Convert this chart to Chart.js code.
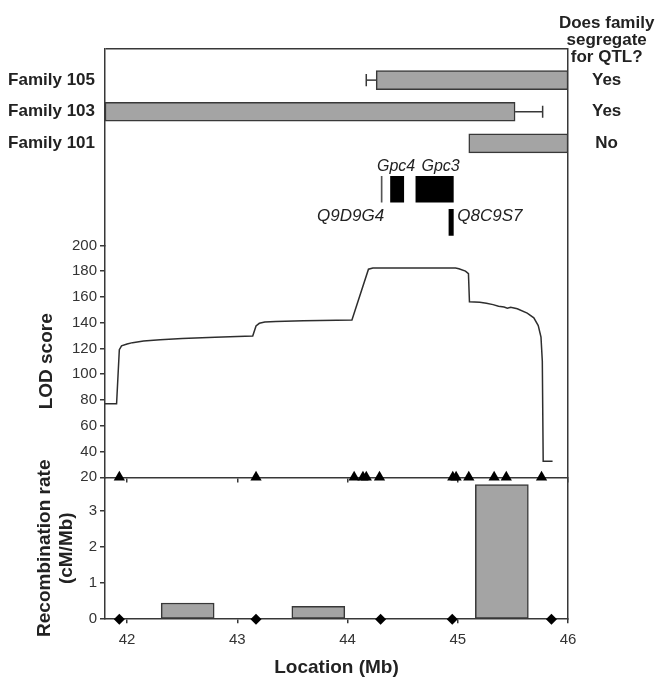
<!DOCTYPE html>
<html><head><meta charset="utf-8">
<script src="https://cdn.jsdelivr.net/npm/chart.js@4.4.1/dist/chart.umd.min.js"></script>
<style>html,body{margin:0;padding:0;background:#fff;}canvas{display:block;}</style>
</head><body>
<canvas id="c" width="659" height="679"></canvas>
<script>
// ---------------- data ----------------
const families = ['Family 105', 'Family 103', 'Family 101'];
const familyStart = [44.26, 41.80, 45.10];
const familyEnd = [46.00, 45.52, 46.00];
const familyErrLow = [44.17, null, null];
const familyErrHigh = [null, 45.77, null];
const segregates = ['Yes', 'Yes', 'No'];
const headerLines = ['Does family', 'segregate', 'for QTL?'];

const genes = ['Q9D9G4', 'Gpc4', 'Gpc3', 'Q8C9S7'];
const geneStart = [44.305, 44.39, 44.62, 44.92];
const geneEnd = [44.314, 44.51, 44.96, 44.96];
const geneTrack = [0, 0, 0, 1];

const lodLocation = [41.80, 41.905, 41.93, 41.95, 42.00, 42.05, 42.15, 42.30, 42.50, 42.80, 43.00, 43.14, 43.17, 43.20, 43.25, 43.35, 43.60, 43.90, 44.04, 44.19, 44.23, 44.60, 44.98, 45.01, 45.07, 45.097, 45.106, 45.20, 45.26, 45.32, 45.37, 45.42, 45.45, 45.48, 45.54, 45.63, 45.69, 45.73, 45.755, 45.767, 45.775, 45.86];
const lodScore = [77, 77, 119, 122, 123.5, 124.5, 125.7, 126.8, 127.7, 128.7, 129.2, 129.6, 137.5, 139.5, 140.5, 141, 141.5, 141.8, 142, 181.5, 182.5, 182.5, 182.5, 181.9, 180, 178, 156.2, 155.8, 155, 154, 152.7, 152.1, 151.3, 152, 150.8, 147.4, 143.8, 137.8, 128.8, 110, 32.5, 32.5];

const markerLocation = [41.93, 43.17, 44.06, 44.14, 44.17, 44.29, 44.955, 44.985, 45.10, 45.33, 45.44, 45.76];

const intervalBounds = [41.93, 43.17, 44.30, 44.95, 45.85];
const recombRate = [0.45, 0.36, 0, 3.74];

const xTicks = [42, 43, 44, 45, 46];
const lodTicks = [20, 40, 60, 80, 100, 120, 140, 160, 180, 200];
const recTicks = [0, 1, 2, 3];

// ---------------- layout / style constants ----------------
const FONT = "'Liberation Sans', Arial, Helvetica, sans-serif";
const DARK = '#383838';
const GRAY = '#a4a4a4';
const X_MIN = 41.8, X_MAX = 46;
const LOD_MIN = 20, LOD_MAX = 200, REC_MAX = 3.94;
const W_TOP = 196.7, W_LOD = 231.7, W_REC = 141.8;
const TOP_MAX = 6.225;
const GENE_ROWS = [4.45, 5.5];
const SIDE_LABEL_ROW = 5.29;
const GENE_LABEL_DX = [7, -1, 6, 0];
const CAP = 0.19;
const LEFT_W = 97, RIGHT_W = 54;

Chart.defaults.font.family = FONT;
Chart.defaults.color = '#333';

const rowOf = i => i + 1;

const datasets = [];
// family bars
datasets.push({
  type: 'bar', indexAxis: 'y', xAxisID: 'x', yAxisID: 'yTop', grouped: false,
  data: families.map((f, i) => ({x: [familyStart[i], familyEnd[i]], y: rowOf(i)})),
  backgroundColor: GRAY, borderColor: DARK, borderWidth: 1.5, borderSkipped: false, barThickness: 19
});
// error whiskers
families.forEach((f, i) => {
  [[familyErrLow[i], familyStart[i]], [familyErrHigh[i], familyEnd[i]]].forEach(([err, base]) => {
    if (err === null) return;
    const line = {type: 'line', xAxisID: 'x', yAxisID: 'yTop', borderColor: DARK, borderWidth: 1.5, pointRadius: 0, clip: false};
    datasets.push(Object.assign({}, line, {data: [{x: base, y: rowOf(i)}, {x: err, y: rowOf(i)}]}));
    datasets.push(Object.assign({}, line, {data: [{x: err, y: rowOf(i) - CAP}, {x: err, y: rowOf(i) + CAP}]}));
  });
});
// genes
datasets.push({
  type: 'bar', indexAxis: 'y', xAxisID: 'x', yAxisID: 'yTop', grouped: false,
  data: genes.map((g, i) => ({x: [geneStart[i], geneEnd[i]], y: GENE_ROWS[geneTrack[i]]})),
  backgroundColor: genes.map((g, i) => geneEnd[i] - geneStart[i] < 0.02 ? '#555' : '#000'),
  borderWidth: 0, barThickness: 26
});
// LOD curve
datasets.push({
  type: 'line', xAxisID: 'x', yAxisID: 'yLod',
  data: lodLocation.map((x, i) => ({x, y: lodScore[i]})),
  borderColor: '#2e2e2e', borderWidth: 1.5, pointRadius: 0, tension: 0, fill: false
});
// markers
datasets.push({
  type: 'scatter', xAxisID: 'x', yAxisID: 'yLod', clip: false,
  data: markerLocation.map(x => ({x, y: LOD_MIN})),
  pointStyle: 'triangle', pointRadius: 6.5, backgroundColor: '#000', borderColor: '#000', borderWidth: 0
});
// recombination bars
datasets.push({
  type: 'bar', xAxisID: 'x', yAxisID: 'yRec', grouped: false,
  data: recombRate.map((r, i) => ({x: (intervalBounds[i] + intervalBounds[i + 1]) / 2, y: r})),
  backgroundColor: GRAY, borderColor: DARK, borderWidth: 1.5, borderSkipped: false, barThickness: 53
});
// interval bounds (diamonds)
datasets.push({
  type: 'scatter', xAxisID: 'x', yAxisID: 'yRec', clip: false,
  data: intervalBounds.map(x => ({x, y: 0})),
  pointStyle: 'rectRot', pointRadius: 5.5, backgroundColor: '#000', borderColor: '#000', borderWidth: 0
});

const setTicks = arr => axis => { axis.ticks = arr.map(v => ({value: v})); };
const fixWidth = w => axis => { axis.width = w; };
const border = {display: true, color: DARK, width: 1.5};
const tickFont = {size: 15};

const textLayer = {
  id: 'textLayer',
  afterDraw(chart) {
    const {ctx, chartArea} = chart;
    const x = chart.scales.x, yTop = chart.scales.yTop;
    ctx.save();
    ctx.fillStyle = '#222';
    ctx.textBaseline = 'middle';
    ctx.font = 'bold 17px ' + FONT;
    ctx.textAlign = 'center';
    const hx = chartArea.right + 24 + ctx.measureText('Yes').width / 2;
    const firstRow = yTop.getPixelForValue(rowOf(0));
    headerLines.forEach((line, i) => {
      ctx.fillText(line, hx, firstRow - 23 - 17 * (headerLines.length - 1 - i));
    });
    genes.forEach((g, i) => {
      const x0 = x.getPixelForValue(geneStart[i]);
      const x1 = x.getPixelForValue(geneEnd[i]);
      const rowY = yTop.getPixelForValue(GENE_ROWS[geneTrack[i]]);
      const sideY = yTop.getPixelForValue(SIDE_LABEL_ROW);
      if (geneTrack[i] === 1) {
        ctx.font = 'italic 17px ' + FONT;
        ctx.textAlign = 'left';
        ctx.fillText(g, x1 + 4 + GENE_LABEL_DX[i], sideY);
      } else if (x1 - x0 < 3) {
        ctx.font = 'italic 17px ' + FONT;
        ctx.textAlign = 'right';
        ctx.fillText(g, x0 - 4 + GENE_LABEL_DX[i], sideY);
      } else {
        ctx.font = 'italic 16px ' + FONT;
        ctx.textAlign = 'center';
        ctx.fillText(g, (x0 + x1) / 2 + GENE_LABEL_DX[i], rowY - 23);
      }
    });
    ctx.restore();
  }
};

new Chart(document.getElementById('c'), {
  type: 'line',
  data: {datasets},
  plugins: [textLayer],
  options: {
    responsive: false, animation: false,
    layout: {padding: {left: 8, top: 48.5, right: 37, bottom: 0}},
    plugins: {legend: {display: false}, tooltip: {enabled: false}, title: {display: false}},
    scales: {
      x: {
        type: 'linear', position: 'bottom', min: X_MIN, max: X_MAX, offset: false,
        afterBuildTicks: setTicks(xTicks),
        ticks: {font: tickFont, color: '#333', padding: 7.5, maxRotation: 0, autoSkip: false},
        grid: {display: true, drawOnChartArea: false, drawTicks: true, tickLength: 4, color: DARK, lineWidth: 1.5, offset: false},
        border,
        title: {display: true, text: 'Location (Mb)', font: {size: 19, weight: 'bold'}, color: '#222', padding: {top: 0, bottom: 0}}
      },
      xSep: {
        type: 'linear', position: {yLod: LOD_MIN}, min: X_MIN, max: X_MAX, offset: false,
        afterBuildTicks: setTicks(xTicks),
        ticks: {display: false},
        grid: {display: true, drawOnChartArea: false, drawTicks: true, tickLength: 4, color: DARK, lineWidth: 1.5, offset: false},
        border
      },
      yRec: {
        type: 'linear', position: 'left', stack: 'v', stackWeight: W_REC, weight: 1, offset: false,
        min: 0, max: REC_MAX, beginAtZero: false,
        afterBuildTicks: setTicks(recTicks), afterFit: fixWidth(LEFT_W),
        ticks: {font: tickFont, color: '#333', padding: 3, autoSkip: false},
        grid: {display: true, drawOnChartArea: false, drawTicks: true, tickLength: 5, color: DARK, lineWidth: 1.5, offset: false},
        border,
        title: {display: true, text: ['Recombination rate', '(cM/Mb)'], font: {size: 19, weight: 'bold'}, color: '#222', padding: {top: 25, bottom: 2}}
      },
      yLod: {
        type: 'linear', position: 'left', stack: 'v', stackWeight: W_LOD, weight: 2, offset: false,
        min: LOD_MIN, max: LOD_MAX, beginAtZero: false,
        afterBuildTicks: setTicks(lodTicks), afterFit: fixWidth(LEFT_W),
        ticks: {font: tickFont, color: '#333', padding: 3, autoSkip: false},
        grid: {display: true, drawOnChartArea: false, drawTicks: true, tickLength: 5, color: DARK, lineWidth: 1.5, offset: false},
        border,
        title: {display: true, text: 'LOD score', font: {size: 19, weight: 'bold'}, color: '#222', padding: {top: 27, bottom: 2}}
      },
      yTop: {
        type: 'linear', position: 'left', stack: 'v', stackWeight: W_TOP, weight: 3, offset: false,
        reverse: true, min: 0, max: TOP_MAX, beginAtZero: false,
        afterBuildTicks: setTicks([0, 1, 2, 3]), afterFit: fixWidth(LEFT_W),
        ticks: {callback: v => (v >= 1 ? families[v - 1] : ''), font: {size: 17, weight: 'bold'}, color: '#222', padding: 10, autoSkip: false},
        grid: {display: true, drawOnChartArea: true, drawTicks: false, lineWidth: 1.5, offset: false,
               color: c => (c.tick && c.tick.value === 0 ? DARK : 'rgba(0,0,0,0)')},
        border
      },
      yR: {
        type: 'linear', position: 'right', reverse: true, min: 0, offset: false,
        max: TOP_MAX * (W_TOP + W_LOD + W_REC) / W_TOP, beginAtZero: false,
        afterBuildTicks: setTicks([1, 2, 3]), afterFit: fixWidth(RIGHT_W),
        ticks: {callback: v => segregates[v - 1], font: {size: 17, weight: 'bold'}, color: '#222', padding: 24, crossAlign: 'center', autoSkip: false},
        grid: {display: false, drawTicks: false, offset: false},
        border
      }
    }
  }
});
</script>
</body></html>
